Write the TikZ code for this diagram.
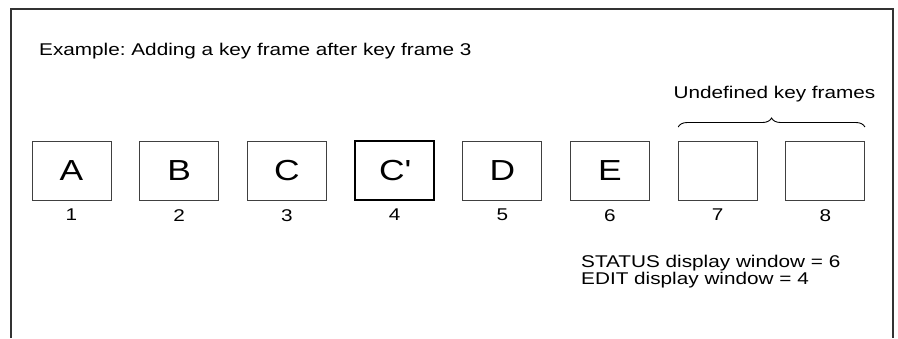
\documentclass[tikz,border=0pt]{standalone}
\usepackage{fontspec}
\setmainfont{Liberation Sans}[FakeStretch=1.22]
\usetikzlibrary{positioning,decorations.pathreplacing}
\frenchspacing

\begin{document}
\begin{tikzpicture}[
  x=1pt, y=1pt,
  frm/.style={draw=black!75, line width=1pt, minimum width=79pt, minimum height=59pt,
              inner sep=0pt, outer sep=0pt, font=\fontsize{29}{29}\selectfont},
  cur/.style={frm, draw=black, line width=2pt},
  num/.style={inner sep=0pt, font=\fontsize{17}{17}\selectfont},
  txt/.style={inner sep=0pt, font=\fontsize{17}{17}\selectfont},
  node distance=28.7pt
]
\useasboundingbox (0,0) rectangle (898,-338);

% ---------- open frame ----------
\draw[line width=1.5pt, black!80] (11,-338) -- (11,-9) -- (893,-9) -- (893,-338);

\node[txt, anchor=base west] (title) at (39,-55) {Example: Adding a key frame after key frame 3};

% ---------- key frames ----------
\node[frm] (a) at (71.5,-170.5) {A};
\node[frm, right=of a] (b) {B};
\node[frm, right=of b] (c) {C};
\node[cur, right=of c] (cp) {C\textquotesingle};
\node[frm, right=of cp] (d) {D};
\node[frm, right=of d] (e) {E};
\node[frm, right=of e] (g) {};
\node[frm, right=of g] (h) {};

% frame numbers
\node[num, below=9pt of a]  (n1) {1};
\node[num, below=9pt of b]  (n2) {2};
\node[num, below=9pt of c]  (n3) {3};
\node[num, below=9pt of cp] (n4) {4};
\node[num, below=9pt of d]  (n5) {5};
\node[num, below=9pt of e]  (n6) {6};
\node[num, below=9pt of g]  (n7) {7};
\node[num, below=9pt of h]  (n8) {8};

% ---------- undefined frames ----------
\draw[decorate, decoration={brace, amplitude=9pt}, black, line width=0.9pt]
  ([yshift=14pt]g.north west) -- ([yshift=14pt]h.north east);
\node[txt, anchor=base] (undef) at (774.5,-98) {Undefined key frames};

% ---------- display windows ----------
\node[txt, anchor=base west] (stat) at (581,-267) {STATUS display window = 6};
\node[txt, anchor=base west] (edit) at (581,-284) {EDIT display window = 4};

\end{tikzpicture}
\end{document}
